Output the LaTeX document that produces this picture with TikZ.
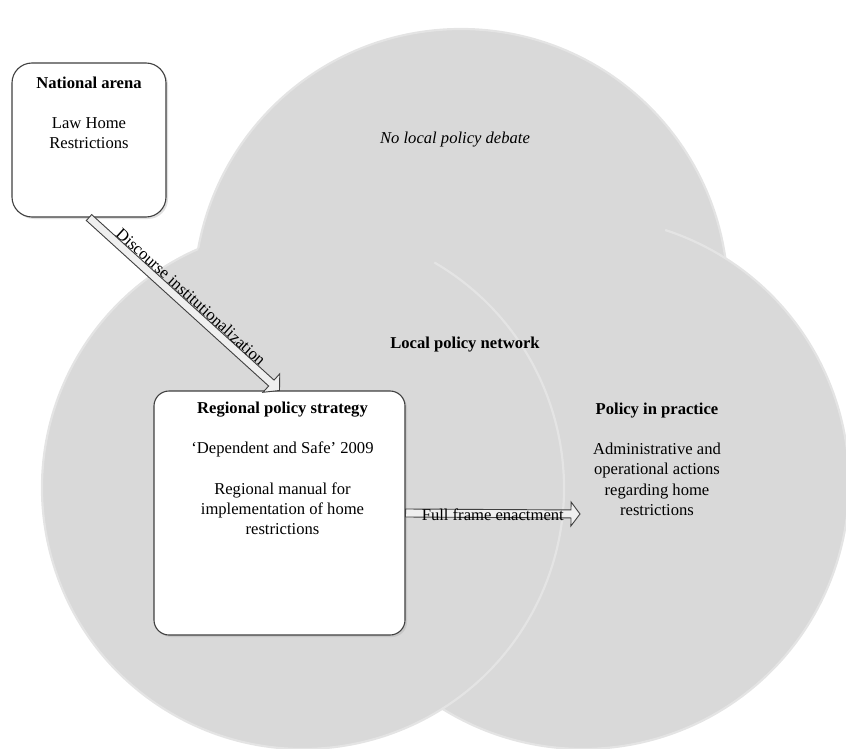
\documentclass[tikz,border=0pt]{standalone}
\usepackage{fontspec}
\setmainfont{Liberation Serif}
\usetikzlibrary{calc,shadows}
\definecolor{circfill}{HTML}{D9D9D9}
\definecolor{circrim}{HTML}{E4E4E4}
\definecolor{boxline}{HTML}{404040}
\definecolor{arrfill}{HTML}{EFEFEF}
\begin{document}
\begin{tikzpicture}[x=1pt,y=-1pt,
  font=\fontsize{16.6}{20.2}\selectfont,
  bubble/.style={circle, inner sep=0pt, fill=circfill},
  rim/.style={draw=circrim, line width=2.2pt},
  roundbox/.style={rectangle, draw=boxline, line width=1.1pt, fill=white, inner sep=0pt,
    drop shadow={shadow xshift=2pt, shadow yshift=-2pt, opacity=0.35, fill=black!35}},
  txtblock/.style={align=center, anchor=north, inner sep=0pt},
  txtline/.style={anchor=base, inner sep=0pt},
  blockarr/.style={draw=boxline, line width=0.9pt, fill=arrfill, line join=miter}
]
\useasboundingbox (0,0) rectangle (846,749);
\begin{scope}
  \clip (0,0) rectangle (846,749);
  \node[bubble, rim, minimum size=534pt] (debate) at (461,296) {};
  \node[bubble, minimum size=532pt] (practice) at (583,483) {};
  \draw[rim] (practice.center) ++(-72:266) arc[start angle=-72, end angle=125, radius=266];
  \node[bubble, minimum size=522pt] (network) at (303,488) {};
  \draw[rim] (network.center) ++(-59.8:261) arc[start angle=-59.8, end angle=246.3, radius=261];
\end{scope}

% boxes
\node[roundbox, rounded corners=20pt, minimum width=154pt, minimum height=154pt] (nat) at (89,140) {};
\node[roundbox, rounded corners=15pt, minimum width=251pt, minimum height=244pt] (reg) at (279.5,513) {};

% texts
\node[txtline] (debatetxt) at (455,143) {\itshape No local policy debate};
\node[txtline] (networktxt) at (465,348) {\bfseries Local policy network};
\node[txtblock] (practicetxt) at (657,399.86) {\strut\textbf{Policy in practice}\\[20.2pt]Administrative and\\operational actions\\regarding home\\restrictions};
\node[txtblock] (nattxt) at (89,73.86) {\strut\textbf{National arena}\\[20.2pt]Law Home\\Restrictions};
\node[txtblock] (regtxt) at (282.5,398.86) {\strut\textbf{Regional policy strategy}\\[20.2pt]‘Dependent and Safe’ 2009\\[20.2pt]Regional manual for\\implementation of home\\restrictions};

% block arrow 1
\coordinate (a1s) at (nat.south);
\coordinate (a1t) at (reg.north);
\coordinate (a1c) at ($(a1t)!11pt!(a1s)$);
\draw[blockarr] ($(a1s)!4pt!90:(a1t)$) -- ($(a1c)!4pt!90:(a1t)$) -- ($(a1c)!12.5pt!90:(a1t)$)
  -- (a1t) -- ($(a1c)!12.5pt!-90:(a1t)$) -- ($(a1c)!4pt!-90:(a1t)$) -- ($(a1s)!4pt!-90:(a1t)$) -- cycle;
\path (a1s) -- (a1t) node[sloped, midway, above, inner sep=4pt] (disc) {Discourse institutionalization};

% block arrow 2
\coordinate (a2s) at (reg.east);
\coordinate (a2t) at (580,514);
\coordinate (a2c) at ($(a2t)!9pt!(a2s)$);
\draw[blockarr] ($(a2s)!4pt!90:(a2t)$) -- ($(a2c)!4pt!90:(a2t)$) -- ($(a2c)!12pt!90:(a2t)$)
  -- (a2t) -- ($(a2c)!12pt!-90:(a2t)$) -- ($(a2c)!4pt!-90:(a2t)$) -- ($(a2s)!4pt!-90:(a2t)$) -- cycle;
\path (a2s) -- (a2t) node[midway, anchor=base, inner sep=0pt, yshift=-6.5pt] (ffe) {Full frame enactment};
\end{tikzpicture}
\end{document}
